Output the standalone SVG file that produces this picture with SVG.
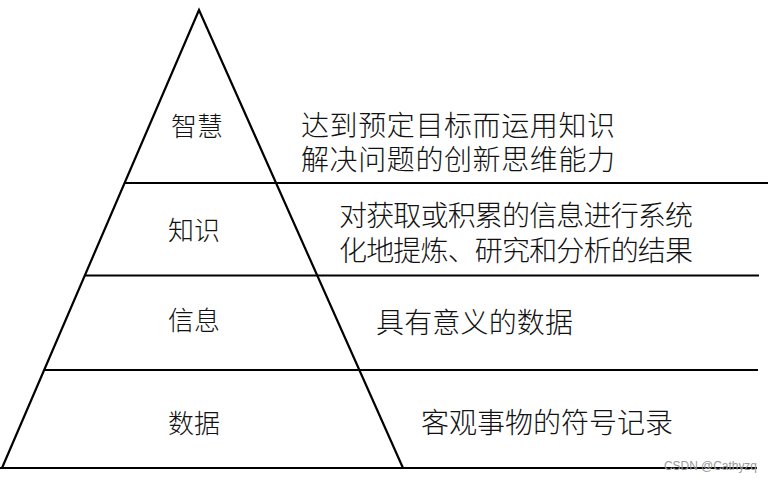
<svg xmlns="http://www.w3.org/2000/svg" width="771" height="485" viewBox="0 0 771 485">
<style>
.ln{stroke:#000;stroke-width:2.2;fill:none;stroke-linejoin:miter}
.t{font-family:"Noto Sans CJK SC","Noto Sans",sans-serif;font-size:28px;fill:#111;font-weight:300}
.l{font-family:"Noto Sans CJK SC","Noto Sans",sans-serif;font-size:26px;fill:#111;font-weight:300}
.wm{font-family:"Liberation Sans",Arial,sans-serif;font-size:12px;fill:#999}
</style>
<rect width="771" height="485" fill="#fff"/>
<g id="connectors">
<path class="ln" d="M2,468 L199,10 L403,468"/>
<line class="ln" x1="124.6" y1="183" x2="768" y2="183"/>
<line class="ln" x1="85" y1="275.5" x2="759" y2="275.5"/>
<line class="ln" x1="44" y1="370" x2="758" y2="370"/>
<line class="ln" x1="0" y1="468" x2="757" y2="468"/>
</g>
<g id="wisdom">
<text class="l" x="171" y="136">智慧</text>
<text class="t" x="301" y="136" textLength="314">达到预定目标而运用知识</text>
<text class="t" x="301" y="170" textLength="314">解决问题的创新思维能力</text>
</g>
<g id="knowledge">
<text class="l" x="168" y="240">知识</text>
<text class="t" x="339" y="226" textLength="354">对获取或积累的信息进行系统</text>
<text class="t" x="339" y="261" textLength="354">化地提炼、研究和分析的结果</text>
</g>
<g id="information">
<text class="l" x="168" y="330">信息</text>
<text class="t" x="376" y="333" textLength="197">具有意义的数据</text>
</g>
<g id="data">
<text class="l" x="168" y="433">数据</text>
<text class="t" x="421" y="433" textLength="252">客观事物的符号记录</text>
</g>
<text class="wm" x="664" y="470" textLength="93">CSDN @Cathyzq</text>
</svg>
